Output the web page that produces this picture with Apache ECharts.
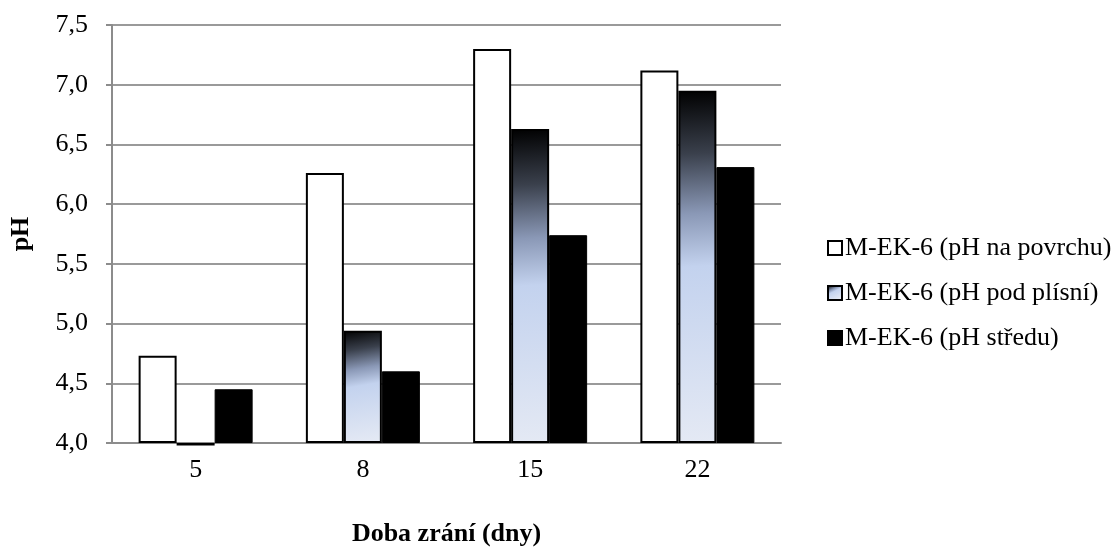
<!DOCTYPE html>
<html>
<head>
<meta charset="utf-8">
<script src="https://cdn.jsdelivr.net/npm/echarts@6/dist/echarts.min.js"></script>
<style>
html,body{margin:0;padding:0;background:#fff;}
#chart{width:1117px;height:552px;}
</style>
</head>
<body>
<div id="chart"></div>
<script>
const categories = ['5', '8', '15', '22'];
const seriesNames = ['M-EK-6 (pH na povrchu)', 'M-EK-6 (pH pod plísní)', 'M-EK-6 (pH středu)'];
const povrch = [4.73, 6.26, 7.30, 7.12];
const podPlisni = [3.98, 4.94, 6.63, 6.95];
const stred = [4.45, 4.60, 5.74, 6.31];
const yMin = 4.0, yMax = 7.5, yStep = 0.5;

const FONT = '"Liberation Serif", "Times New Roman", serif';
const FS = 26;
const chart = echarts.init(document.getElementById('chart'));

const grad = new echarts.graphic.LinearGradient(0, 0, 0.5, 1, [
  {offset: 0, color: '#000000'},
  {offset: 0.18, color: '#3a404c'},
  {offset: 0.35, color: '#8a98b6'},
  {offset: 0.5, color: '#c3d2ee'},
  {offset: 1, color: '#e4e9f4'}
]);

chart.setOption({
  animation: false,
  backgroundColor: '#ffffff',
  grid: {left: 111, right: 336, top: 25, bottom: 102, containLabel: false},
  legend: {
    orient: 'vertical',
    left: 822,
    top: 230,
    itemWidth: 14,
    itemHeight: 14,
    itemGap: 19,
    icon: 'rect',
    textStyle: {fontFamily: FONT, fontSize: FS, color: '#000', padding: [0, 0, 0, -2]},
    data: seriesNames
  },
  xAxis: {
    type: 'category',
    data: categories,
    name: 'Doba zrání (dny)',
    nameLocation: 'middle',
    nameGap: 78,
    nameTextStyle: {fontFamily: FONT, fontSize: FS, fontWeight: 'bold', color: '#000'},
    axisLine: {lineStyle: {color: '#8c8c8c', width: 2}},
    axisTick: {show: false},
    axisLabel: {fontFamily: FONT, fontSize: FS, color: '#000', margin: 14}
  },
  yAxis: {
    type: 'value',
    min: yMin,
    max: yMax,
    interval: yStep,
    startValue: yMin,
    name: 'pH',
    nameLocation: 'middle',
    nameGap: 78,
    nameRotate: 90,
    nameTextStyle: {fontFamily: FONT, fontSize: FS, fontWeight: 'bold', color: '#000'},
    axisLine: {show: true, lineStyle: {color: '#8c8c8c', width: 2}},
    axisTick: {show: true, length: 6, lineStyle: {color: '#8c8c8c', width: 2}},
    axisLabel: {fontFamily: FONT, fontSize: FS, color: '#000', margin: 24,
      formatter: v => v.toFixed(1).replace('.', ',')},
    splitLine: {lineStyle: {color: '#9a9a9a', width: 2}}
  },
  series: [
    {name: seriesNames[0], type: 'bar', data: povrch, barWidth: 38, barGap: '0%', clip: false,
     itemStyle: {color: '#ffffff', borderColor: '#000', borderWidth: 2}},
    {name: seriesNames[1], type: 'bar', data: podPlisni, barWidth: 38, barGap: '0%', clip: false,
     itemStyle: {color: grad, borderColor: '#000', borderWidth: 2}},
    {name: seriesNames[2], type: 'bar', data: stred, barWidth: 38, barGap: '0%', clip: false,
     itemStyle: {color: '#000000', borderColor: '#000', borderWidth: 1}}
  ]
});
</script>
</body>
</html>
